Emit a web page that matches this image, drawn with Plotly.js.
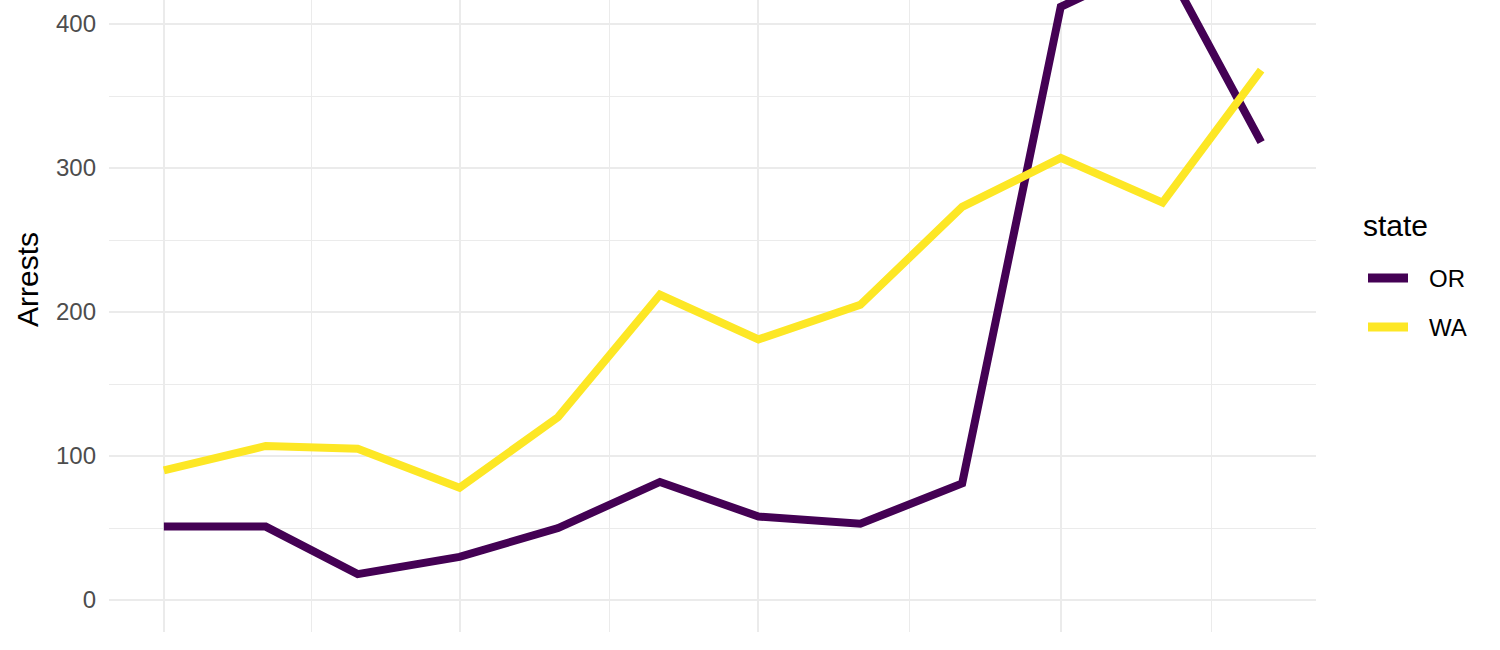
<!DOCTYPE html>
<html>
<head>
<meta charset="utf-8">
<script src="https://cdn.plot.ly/plotly-3.0.1.min.js"></script>
<style>
html, body { margin: 0; padding: 0; background: #ffffff; }
#chart { width: 1500px; height: 650px; }
</style>
</head>
<body>
<div id="chart"></div>
<script>
// ---- data ----
const months = ['2025-01-01','2025-02-01','2025-03-01','2025-04-01','2025-05-01','2025-06-01',
                '2025-07-01','2025-08-01','2025-09-01','2025-10-01','2025-11-01','2025-12-01'];
const orArrests = [51, 51, 18, 30, 50, 82, 58, 53, 81, 412, 445, 318];
const waArrests = [90, 107, 105, 78, 127, 212, 181, 205, 273, 307, 276, 368];
const stateNames = ['OR', 'WA'];
const stateColors = ['#440154', '#FDE725'];
const legendTitle = 'state';
const xTickVals = ['2025-01-01','2025-04-01','2025-07-01','2025-10-01'];
const xTickText = ['Jan 2025','Apr 2025','Jul 2025','Oct 2025'];
const xMinorVals = ['2025-02-15','2025-05-16 12:00','2025-08-16','2025-11-16'];

const traces = [orArrests, waArrests].map((vals, i) => ({
  type: 'scatter',
  mode: 'lines',
  x: months,
  y: vals,
  name: stateNames[i],
  line: { color: stateColors[i], width: 8 },
  showlegend: false,
  hoverinfo: 'x+y+name'
}));

// geometry of the plot panel in pixels (for the hand-placed legend)
const W = 1500, H = 650, mL = 109, mR = 184, mT = 0, mB = 18;
const pw = W - mL - mR, ph = H - mT - mB;
const px = v => (v - mL) / pw;
const py = v => (ph + mT - v) / ph;

const shapes = [];
const annotations = [{
  text: 'Arrests',
  xref: 'paper', yref: 'paper',
  x: px(27), y: py(280),
  xanchor: 'center', yanchor: 'middle',
  textangle: -90,
  showarrow: false,
  font: { size: 30, color: '#000000' }
}, {
  text: legendTitle,
  xref: 'paper', yref: 'paper',
  x: px(1361), y: py(225),
  xanchor: 'left', yanchor: 'middle',
  showarrow: false,
  font: { size: 30, color: '#000000' }
}];
stateNames.forEach((name, i) => {
  const cy = 278 + i * 49;
  shapes.push({
    type: 'line', xref: 'paper', yref: 'paper',
    x0: px(1368), x1: px(1408), y0: py(cy), y1: py(cy),
    line: { color: stateColors[i], width: 9 }
  });
  annotations.push({
    text: name,
    xref: 'paper', yref: 'paper',
    x: px(1427), y: py(cy),
    xanchor: 'left', yanchor: 'middle',
    showarrow: false,
    font: { size: 24, color: '#000000' }
  });
});

const layout = {
  width: W,
  height: H,
  margin: { l: mL, r: mR, t: mT, b: mB },
  paper_bgcolor: '#ffffff',
  plot_bgcolor: '#ffffff',
  font: { family: '"Liberation Sans", Arial, sans-serif', color: '#000000' },
  showlegend: false,
  xaxis: {
    type: 'date',
    range: ['2024-12-15 07:12', '2025-12-17 16:48'],
    tickmode: 'array',
    tickvals: xTickVals,
    ticktext: xTickText,
    ticks: '',
    ticklabelstandoff: 12,
    tickfont: { size: 24, color: '#4D4D4D' },
    showgrid: true,
    gridcolor: '#EBEBEB',
    gridwidth: 2,
    minor: { tickmode: 'array', tickvals: xMinorVals, showgrid: true, gridcolor: '#EBEBEB', gridwidth: 1, ticks: '' },
    zeroline: false,
    showline: false,
    fixedrange: true
  },
  yaxis: {
    range: [-22.2, 416.7],
    tickmode: 'linear',
    tick0: 0,
    dtick: 100,
    ticks: '',
    ticklabelstandoff: 12,
    tickfont: { size: 24, color: '#4D4D4D' },
    showgrid: true,
    gridcolor: '#EBEBEB',
    gridwidth: 2,
    minor: { dtick: 50, showgrid: true, gridcolor: '#EBEBEB', gridwidth: 1, ticks: '' },
    zeroline: false,
    showline: false,
    fixedrange: true
  },
  shapes: shapes,
  annotations: annotations
};

Plotly.newPlot('chart', traces, layout, { displayModeBar: false });
</script>
</body>
</html>
